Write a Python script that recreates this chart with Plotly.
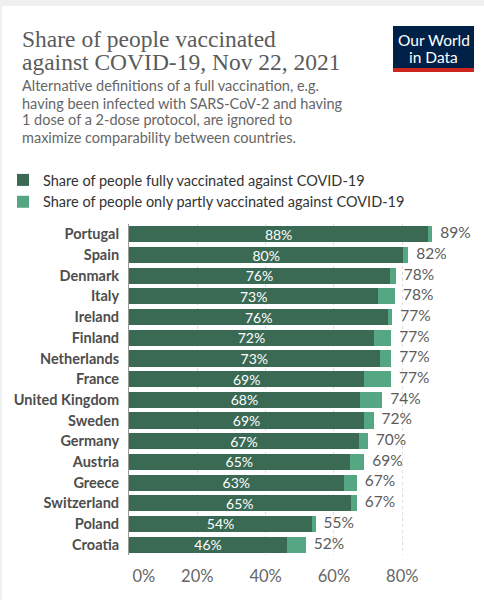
import plotly.graph_objects as go

countries = ["Portugal", "Spain", "Denmark", "Italy", "Ireland", "Finland",
             "Netherlands", "France", "United Kingdom", "Sweden", "Germany",
             "Austria", "Greece", "Switzerland", "Poland", "Croatia"]
fully = [87.6, 80.3, 76.4, 73.0, 75.9, 71.7, 73.4, 68.9, 67.6, 68.8, 67.3,
         64.6, 62.8, 64.9, 53.6, 46.3]
partly = [1.2, 1.5, 1.7, 4.9, 1.2, 5.1, 3.4, 7.8, 6.6, 2.8, 2.6,
          4.3, 3.9, 1.8, 1.0, 5.5]
totals = [round(f + p, 1) for f, p in zip(fully, partly)]
tick_vals = [0, 20, 40, 60, 80]
tick_text = ["&nbsp;&nbsp;&nbsp;&nbsp;&nbsp;&nbsp;&nbsp;0%", "20%", "40%", "60%", "80%"]

W, H = 484, 600
L, R, T, B = 129, 51, 224, 45
pw, ph = W - L - R, H - T - B


def px(x):
    return (x - L) / pw


def py(y):
    return (H - B - y) / ph


fig = go.Figure()
fig.add_trace(go.Bar(
    y=countries, x=fully, orientation="h",
    name="Share of people fully vaccinated against COVID-19",
    marker=dict(color="#3b6a54", line=dict(width=0)),
    texttemplate="%{x:.0f}%", textposition="inside",
    insidetextanchor="middle", constraintext="none",
    textfont=dict(family="Lato", size=14, color="white"),
))
fig.add_trace(go.Bar(
    y=countries, x=partly, orientation="h",
    name="Share of people only partly vaccinated against COVID-19",
    marker=dict(color="#55a783", line=dict(width=0)),
    textposition="none",
))
fig.add_trace(go.Scatter(
    y=countries, x=totals, mode="text",
    text=[f"&nbsp;&nbsp;{t:.0f}%" for t in totals], textposition="middle right",
    textfont=dict(family="Lato", size=15.5, color="#5b5b5b"),
    showlegend=False, cliponaxis=False,
))

# card background and logo
shapes = [
    dict(type="rect", xref="paper", yref="paper", x0=px(0), x1=px(W), y0=py(0), y1=py(6),
         fillcolor="#f0f0f0", line=dict(width=0), layer="below"),
    dict(type="rect", xref="paper", yref="paper", x0=px(0), x1=px(2), y0=py(0), y1=py(H),
         fillcolor="#f0f0f0", line=dict(width=0), layer="below"),
    dict(type="rect", xref="paper", yref="paper", x0=px(393), x1=px(474), y0=py(26), y1=py(68),
         fillcolor="#002147", line=dict(width=0)),
    dict(type="rect", xref="paper", yref="paper", x0=px(393), x1=px(474), y0=py(68), y1=py(72),
         fillcolor="#ce261e", line=dict(width=0)),
]

annotations = [
    dict(text="Share of people vaccinated", x=px(20), y=py(39), xanchor="left", yanchor="middle",
         font=dict(family="Liberation Serif", size=23.5, color="#5b5b5b")),
    dict(text="against COVID-19, Nov 22, 2021", x=px(20), y=py(62), xanchor="left", yanchor="middle",
         font=dict(family="Liberation Serif", size=23.5, color="#5b5b5b")),
    dict(text="Our World", x=px(433.5), y=py(40), xanchor="center", yanchor="middle",
         font=dict(family="Lato", size=15.5, color="white")),
    dict(text="in Data", x=px(433.5), y=py(57.5), xanchor="center", yanchor="middle",
         font=dict(family="Lato", size=15.5, color="white")),
]
subtitle = ["Alternative definitions of a full vaccination, e.g.",
            "having been infected with SARS-CoV-2 and having",
            "1 dose of a 2-dose protocol, are ignored to",
            "maximize comparability between countries."]
for i, line in enumerate(subtitle):
    annotations.append(dict(text=line, x=px(20), y=py(86 + 17 * i), xanchor="left", yanchor="middle",
                            font=dict(family="Lato", size=14.5, color="#666666")))
for a in annotations:
    a.update(xref="paper", yref="paper", showarrow=False)

fig.update_layout(
    width=W, height=H,
    margin=dict(l=L, r=R, t=T, b=B, autoexpand=False),
    paper_bgcolor="white", plot_bgcolor="white",
    barmode="stack", bargap=0.22,
    showlegend=True,
    legend=dict(x=px(3), y=py(164), xanchor="left", yanchor="top",
                font=dict(family="Lato", size=14.5, color="#333333"),
                traceorder="normal", tracegroupgap=0, itemclick=False),
    shapes=shapes, annotations=annotations,
    xaxis=dict(range=[0, 89], tickvals=tick_vals, ticktext=tick_text,
               showgrid=True, gridcolor="#dddddd", griddash="dot", gridwidth=1,
               zeroline=False, showline=False, ticks="", automargin=False,
               tickfont=dict(family="Lato", size=16.5, color="#666666"),
               ticklabelstandoff=9),
    yaxis=dict(range=[len(countries) - 0.5, -0.5], showline=True, linecolor="#999999", linewidth=1,
               ticks="", ticklabelstandoff=6, automargin=False,
               tickfont=dict(family="Lato", size=14.5, color="#4d4d4d", weight="bold")),
)
# the page's default body margin would push the figure 8px off
fig.write_html("out.html", config={"displayModeBar": False},
               post_script="document.body.style.margin = '0';")
